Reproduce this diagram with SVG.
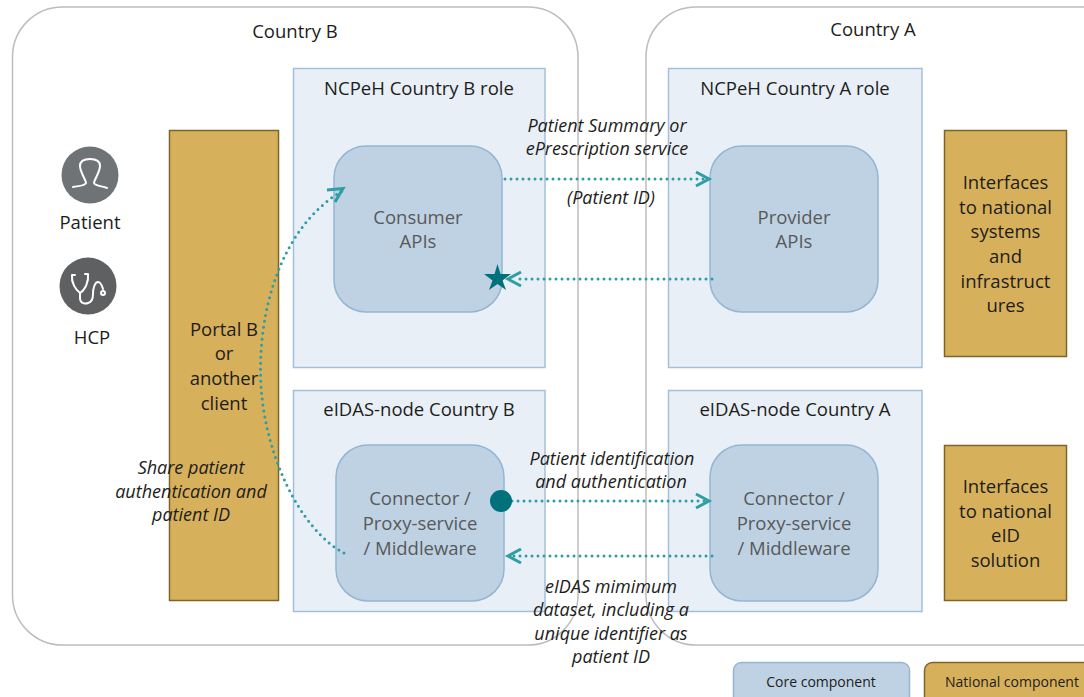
<svg xmlns="http://www.w3.org/2000/svg" width="1084" height="697" viewBox="0 0 1084 697">
<style>
text{font-family:"Open Sans","Noto Sans","Liberation Sans",sans-serif;text-anchor:middle;fill:#1d1d1b;font-size:18.500px}
.country{fill:#fff;stroke:#bdbdbd;stroke-width:1.5}
.role{fill:#e9eff6;stroke:#a3c0da;stroke-width:1.5}
.core{fill:#bed2e4;stroke:#93b6d3;stroke-width:1.5}
.nat{fill:#d7b05b;stroke:#806427;stroke-width:1.5}
.api text{fill:#595959}
.lab{font-style:italic;font-size:18px}
.leg{font-size:14px}
.link{fill:none;stroke:#2e9ea3;stroke-width:3;stroke-dasharray:0 6;stroke-linecap:round}
.head{fill:none;stroke:#2e9ea3;stroke-width:3}
.ico{fill:none;stroke:#fff;stroke-width:2;stroke-linecap:round;stroke-linejoin:round}
</style>
<g id="country-b"><rect class="country" x="12.500" y="7" width="565.500" height="638" rx="50"/><text x="295" y="38">Country B</text></g>
<g id="country-a"><rect class="country" x="646" y="7" width="500" height="638" rx="50"/><text x="873" y="36">Country A</text></g>
<g id="ncpeh-b"><rect class="role" x="293.500" y="68.500" width="251.500" height="299"/><text x="419" y="95">NCPeH Country B role</text></g>
<g id="ncpeh-a"><rect class="role" x="668.500" y="68.500" width="253.500" height="299"/><text x="795" y="95">NCPeH Country A role</text></g>
<g id="eidas-b"><rect class="role" x="293.500" y="390.500" width="251.500" height="221"/><text x="419" y="416">eIDAS-node Country B</text></g>
<g id="eidas-a"><rect class="role" x="668.500" y="390.500" width="253.500" height="221"/><text x="795" y="416">eIDAS-node Country A</text></g>
<g id="consumer" class="api"><rect class="core" x="334" y="146" width="168" height="166" rx="32"/><text x="418" y="224">Consumer</text><text x="418" y="248">APIs</text></g>
<g id="provider" class="api"><rect class="core" x="710" y="146" width="168" height="166" rx="32"/><text x="794" y="224">Provider</text><text x="794" y="248">APIs</text></g>
<g id="connector-b" class="api"><rect class="core" x="336" y="445" width="168" height="156" rx="32"/><text x="420" y="505">Connector /</text><text x="420" y="530">Proxy-service</text><text x="420" y="555">/ Middleware</text></g>
<g id="connector-a" class="api"><rect class="core" x="710" y="445" width="168" height="156" rx="32"/><text x="794" y="505">Connector /</text><text x="794" y="530">Proxy-service</text><text x="794" y="555">/ Middleware</text></g>
<g id="portal"><rect class="nat" x="169.500" y="130.500" width="109" height="470"/><text x="224" y="336">Portal B</text><text x="224" y="360">or</text><text x="224" y="385">another</text><text x="224" y="410">client</text></g>
<g id="national-systems"><rect class="nat" x="944.500" y="130.500" width="122" height="226"/><text x="1005.500" y="189">Interfaces</text><text x="1005.500" y="214">to national</text><text x="1005.500" y="238">systems</text><text x="1005.500" y="263">and</text><text x="1005.500" y="288">infrastruct</text><text x="1005.500" y="312">ures</text></g>
<g id="national-eid"><rect class="nat" x="944.500" y="445.500" width="122" height="155"/><text x="1005.500" y="493">Interfaces</text><text x="1005.500" y="518">to national</text><text x="1005.500" y="542">eID</text><text x="1005.500" y="567">solution</text></g>
<g id="patient"><circle cx="90" cy="175" r="28.500" fill="#707376"/><path class="ico" d="M73 187 C78 186 85 186 86 183 C86 180 80 172 80 166 C80 160 85 159 90 159 C95 159 100 160 100 166 C100 172 94 180 94 183 C95 186 102 186 107 188"/><text x="90" y="229">Patient</text></g>
<g id="hcp"><circle cx="88" cy="286" r="28.500" fill="#5f6062"/><path class="ico" d="M75 275 H72 C71 283 76 290 80 293 V298 C80 304 86 304 88 303 C92 302 93 298 93 294 C93 288 95 282 98 282 C101 282 102 286 103 289 M85 274 H88 C89 282 85 290 80 293"/><circle class="ico" cx="103" cy="293" r="2"/><text x="92" y="344">HCP</text></g>
<g id="legend-core"><rect class="core" x="733.500" y="662.500" width="176" height="50" rx="8"/><text class="leg" x="821" y="687">Core component</text></g>
<g id="legend-national"><rect class="nat" x="924.500" y="662.500" width="175" height="50" rx="8"/><text class="leg" x="1012" y="687">National component</text></g>
<g id="connectors">
<path class="link" d="M505 179 H708"/><path class="head" d="M696 172 L709 179 L696 186"/>
<path class="link" d="M712 279 H514"/><path class="head" d="M521 272 L508 279 L521 286"/>
<path class="link" d="M512 501 H708"/><path class="head" d="M696 494 L709 501 L696 508"/>
<path class="link" d="M712 556 H510"/><path class="head" d="M521 549 L508 556 L521 563"/>
<path class="link" d="M344 553 C300 530 260.500 450 260.500 370 C260.500 300 285 225 342 191"/><path class="head" d="M327 190 L343 188.500 L335 202"/>
<polygon points="497.500,264 500.500,274 511,274 502.500,280.500 506,290 497.500,284 489,290 492.500,280.500 484,274 494.500,274" fill="#00707a"/>
<circle cx="501" cy="501" r="11" fill="#00707a"/>
</g>
<g id="labels">
<text class="lab" x="607" y="132">Patient Summary or</text><text class="lab" x="607" y="155">ePrescription service</text><text class="lab" x="611" y="204">(Patient ID)</text>
<text class="lab" x="612" y="465">Patient identification</text><text class="lab" x="611" y="488">and authentication</text>
<text class="lab" x="611" y="593">eIDAS mimimum</text><text class="lab" x="611" y="616">dataset, including a</text><text class="lab" x="611" y="640">unique identifier as</text><text class="lab" x="611" y="663">patient ID</text>
<text class="lab" x="191" y="474">Share patient</text><text class="lab" x="191" y="498">authentication and</text><text class="lab" x="191" y="521">patient ID</text>
</g>
</svg>
